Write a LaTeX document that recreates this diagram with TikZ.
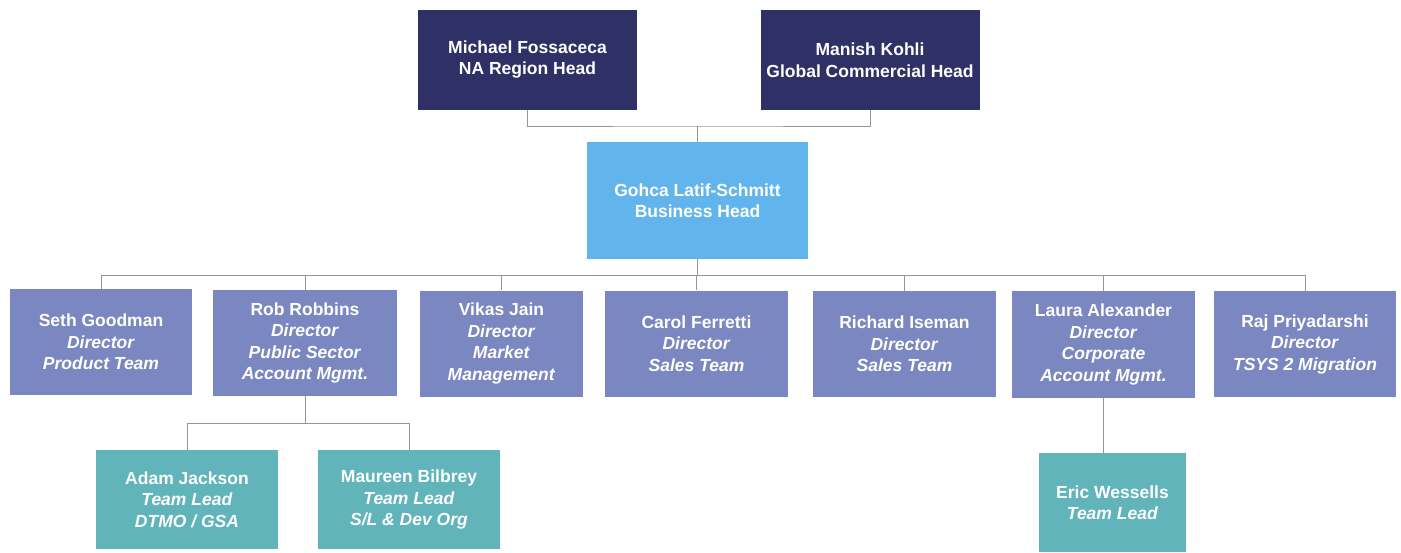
\documentclass[tikz,border=0pt]{standalone}
\usepackage{fontspec}
\setmainfont{Liberation Sans}
\usetikzlibrary{positioning}
\definecolor{navy}{RGB}{46,48,102}
\definecolor{sky}{RGB}{98,180,236}
\definecolor{slate}{RGB}{122,135,192}
\definecolor{leadteal}{RGB}{96,180,186}
\definecolor{linkgray}{RGB}{150,150,150}

\tikzset{
  orgbox/.style={rectangle, text=white, align=center, inner sep=0pt,
    font=\fontsize{17.5}{21.5}\selectfont\bfseries},
  headbox/.style={orgbox, fill=navy, minimum width=219pt, minimum height=100pt},
  bizbox/.style={orgbox, fill=sky, minimum width=221pt, minimum height=117pt},
  dirbox/.style={orgbox, fill=slate, minimum width=183pt, minimum height=106pt},
  leadbox/.style={orgbox, fill=leadteal, minimum width=182pt, minimum height=99pt},
  link/.style={draw=linkgray, line width=1pt}
}

\begin{document}
\begin{tikzpicture}[x=1pt, y=-1pt]
  \useasboundingbox (0,0) rectangle (1401,552);
  % top level
  \node[headbox] (mf) at (527.5,59.5) {Michael Fossaceca\\NA Region Head};
  \node[headbox] (mk) at (870,60) {Manish Kohli\\Global Commercial Head};
  \node[bizbox] (gls) at (697.5,200.5) {Gohca Latif-Schmitt\\Business Head};
  % directors
  \node[dirbox, minimum width=182pt] (seth) at (101,342) {Seth Goodman\\\textit{Director}\\\textit{Product Team}};
  \node[dirbox, minimum width=184pt] (rob) at (305,343) {Rob Robbins\\\textit{Director}\\\textit{Public Sector}\\\textit{Account Mgmt.}};
  \node[dirbox, minimum width=163pt] (vikas) at (501.5,343.5) {Vikas Jain\\\textit{Director}\\\textit{Market}\\\textit{Management}};
  \node[dirbox] (carol) at (696.5,343.5) {Carol Ferretti\\\textit{Director}\\\textit{Sales Team}};
  \node[dirbox] (richard) at (904.5,344) {Richard Iseman\\\textit{Director}\\\textit{Sales Team}};
  \node[dirbox, minimum height=107pt] (laura) at (1103.5,344.5) {Laura Alexander\\\textit{Director}\\\textit{Corporate}\\\textit{Account Mgmt.}};
  \node[dirbox, minimum width=182pt] (raj) at (1305,344) {Raj Priyadarshi\\\textit{Director}\\\textit{TSYS 2 Migration}};
  % team leads
  \node[leadbox] (adam) at (187,499.5) {Adam Jackson\\\textit{Team Lead}\\\textit{DTMO / GSA}};
  \node[leadbox] (maureen) at (409,499.5) {Maureen Bilbrey\\\textit{Team Lead}\\\textit{S/L \& Dev Org}};
  \node[leadbox, minimum width=147pt] (eric) at (1112.5,502.5) {Eric Wessells\\\textit{Team Lead}};

  % connectors
  \coordinate (topjoin) at (697.5,126);
  \coordinate (dirbus) at (697.5,275);
  \coordinate (robbus) at (305,423);
  \draw[link] (mf.south) |- (topjoin) -| (mk.south);
  \draw[link] (topjoin) -- (gls.north);
  \draw[link] (gls.south) -- (dirbus);
  \foreach \n in {seth,rob,vikas,carol,richard,laura,raj}
    \draw[link] (dirbus) -| (\n.north);
  \draw[link] (rob.south) -- (robbus);
  \foreach \n in {adam,maureen}
    \draw[link] (robbus) -| (\n.north);
  \draw[link] (laura.south) -- (laura.south |- eric.north);
\end{tikzpicture}
\end{document}
